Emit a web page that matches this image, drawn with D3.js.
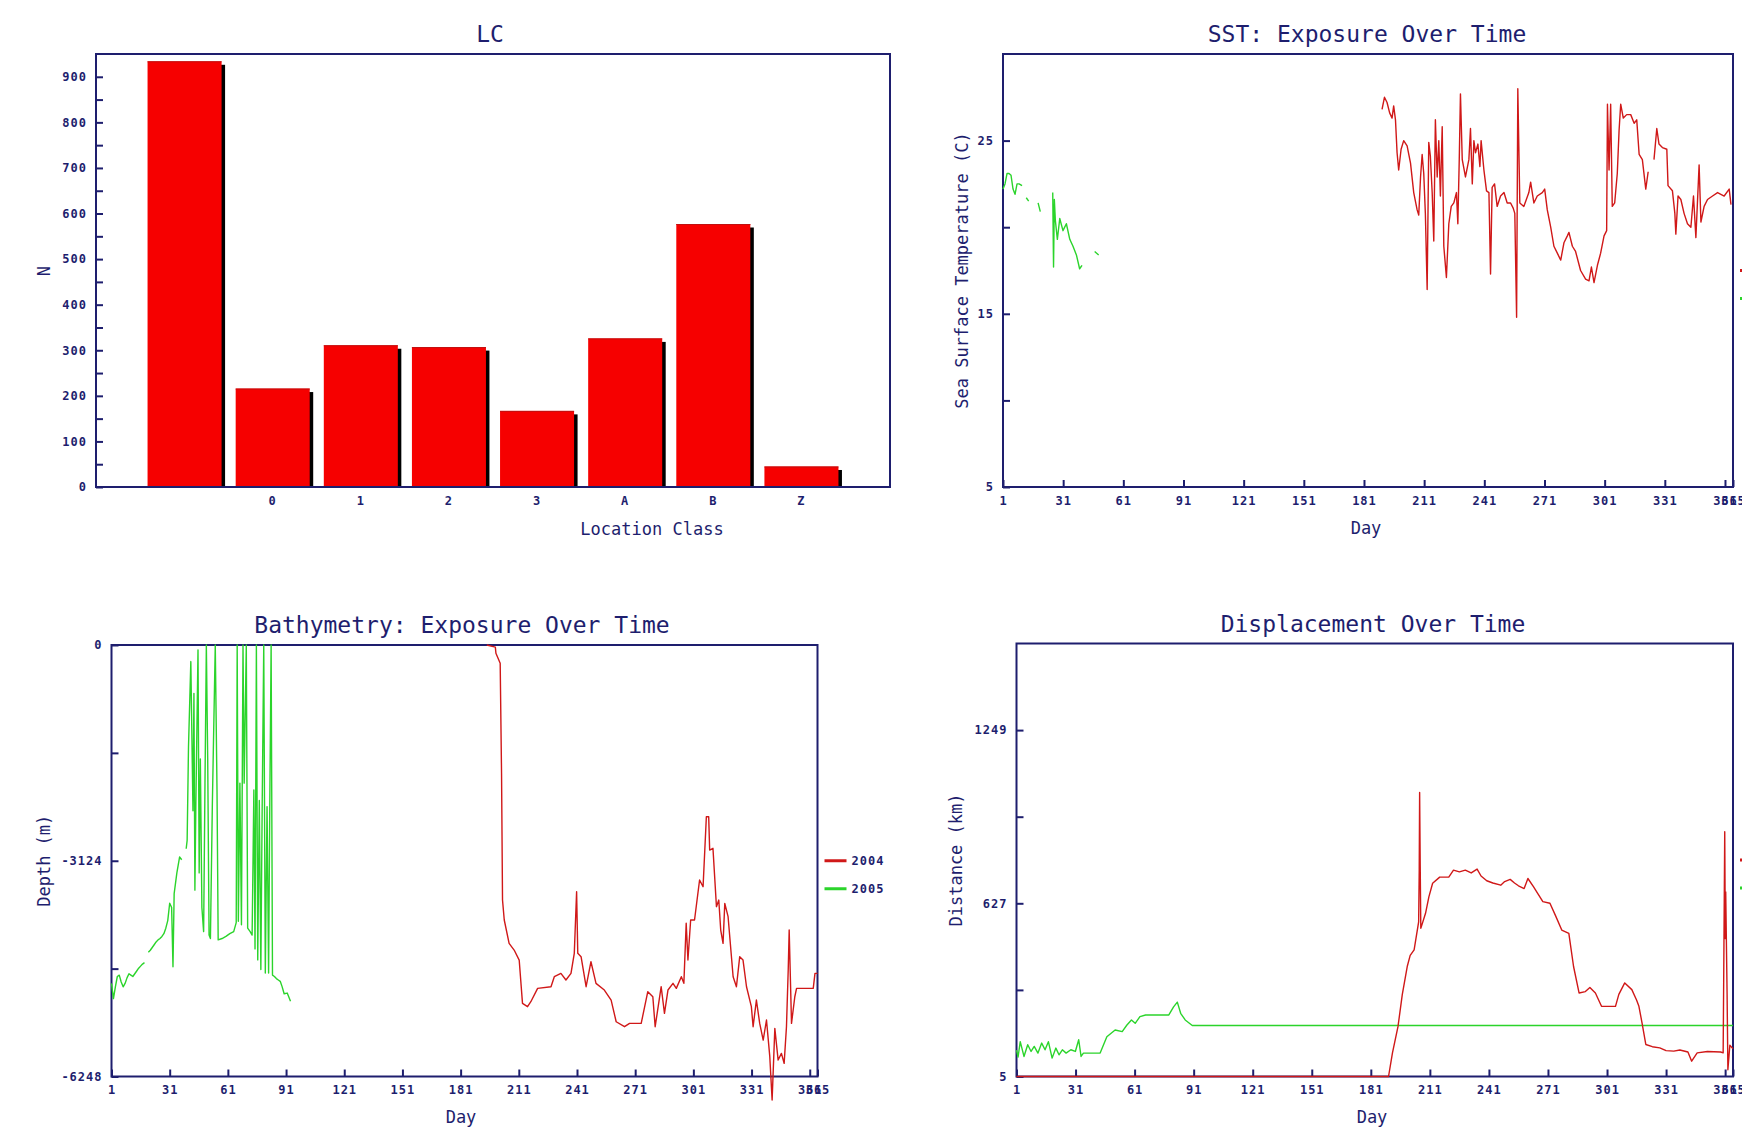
<!DOCTYPE html>
<html><head><meta charset="utf-8">
<script src="https://cdn.jsdelivr.net/npm/d3@7"></script>
<style>
html,body{margin:0;padding:0;background:#fff;overflow:hidden}
svg{display:block}
</style></head><body>
<svg id="c" width="1742" height="1131"></svg>
<script>
// ---------------- DATA ----------------
const lcCategories = ["", "0", "1", "2", "3", "A", "B", "Z"];
const lcCounts = [934, 216, 311, 307, 167, 326, 577, 45];
const lcTicks = [0,50,100,150,200,250,300,350,400,450,500,550,600,650,700,750,800,850,900];
const lcLabeled = [0,100,200,300,400,500,600,700,800,900];

const dayTicks = [1,31,61,91,121,151,181,211,241,271,301,331,361,365];
const seriesNames = ["2004", "2005"];

const sstTicks = [5,10,15,20,25];
const sstLabeled = [5,15,25];
const sst2005 = [[1,22.2],[2,22.5],[3,23.1],[4,23.1],[5,23.0],[6,22.2],[7,21.9],[8,22.5],[9,22.5],[10.5,22.4],[11,null],
  [12.6,21.7],[13.8,21.5],[14.5,null],[18.5,21.4],[19.6,20.9],[20.5,null],[25.8,22.0],[26.2,17.7],[26.6,21.6],[27.1,20.4],
  [28.1,19.3],[29.3,20.5],[30.9,19.8],[32.6,20.2],[34.3,19.3],[35.9,18.9],[37.6,18.4],[39.2,17.6],[40.4,17.8],[41,null],
  [46.7,18.6],[48.7,18.4]];
const sst2004 = [[190,26.8],[191.2,27.5],[192.5,27.2],[193.8,26.6],[195,26.3],[195.8,27.0],[196.7,26.2],[197.5,24.3],[198.3,23.3],
  [199.5,24.5],[200.8,25.0],[202.5,24.7],[204.2,23.7],[205.8,22.0],[207.5,21.0],[208.3,20.7],[209.2,22.9],[210,24.2],[210.8,23.1],
  [211.6,20.8],[212.5,16.4],[213.3,24.9],[214.1,24.1],[215,22.0],[215.8,19.2],[216.6,26.2],[217.5,22.9],[218.3,25.0],[219.1,21.8],
  [220,25.8],[220.8,18.9],[222.1,17.1],[223.3,20.2],[224.5,21.2],[225.8,21.4],[227.1,22.0],[227.8,20.2],[228.5,23.9],[229.1,27.7],
  [230,23.9],[231.6,22.9],[233.3,23.9],[234.1,25.7],[235,22.5],[235.8,25.0],[236.6,24.3],[237.8,24.8],[238.8,23.5],[239.4,25.0],
  [240.8,23.3],[242.1,22.1],[243.3,22.0],[244.1,17.3],[244.9,22.3],[246.1,22.5],[247.4,21.2],[249.1,21.8],[250.8,22.0],[252.4,21.4],
  [254.1,21.4],[255.4,21.1],[256.2,20.8],[257.1,14.8],[257.7,28.0],[258.7,21.4],[260.7,21.2],[263.2,22.0],[264.1,22.6],[265.7,21.4],
  [267.4,21.8],[269.9,22.0],[271.1,22.2],[272.4,21.0],[274.1,20.0],[275.7,18.9],[277.4,18.5],[279.1,18.1],[280.7,19.1],[282.4,19.5],
  [283.2,19.7],[284.9,18.9],[286.5,18.6],[289,17.5],[291.5,17.0],[293.2,16.9],[294.4,17.7],[295.7,16.8],[297.4,17.8],[299,18.5],
  [300.7,19.5],[302,19.8],[302.4,27.1],[303.2,23.3],[304,27.1],[304.8,21.2],[306,21.4],[307.3,23.1],[308.2,25.6],[309,27.1],
  [310.3,26.3],[312,26.5],[314,26.5],[315.7,26.0],[317,26.2],[318.2,24.2],[319.8,23.9],[321.5,22.2],[322.7,23.2],[323.5,null],
  [325.6,23.9],[327,25.7],[328.1,24.8],[329.8,24.6],[332,24.5],[332.6,22.4],[334.8,22.1],[336,20.8],[336.5,19.6],[337.6,21.8],
  [339,21.6],[340.6,20.8],[342.3,20.2],[344,20.0],[345.3,21.8],[346.5,19.4],[348.1,23.6],[349,20.3],[350.6,21.2],[352.3,21.6],
  [354.8,21.8],[357.3,22.0],[360.6,21.8],[363.1,22.2],[364,21.3]];

const bathyTicks = [-6248,-4686,-3124,-1562,0];
const bathyLabeled = [-6248,-3124,0];
const bathy2005 = [[1,-4900],[2,-5120],[3,-4950],[4,-4800],[5,-4780],[6,-4880],[7,-4950],[8,-4900],[9,-4820],[10,-4760],
  [11,-4780],[12,-4800],[13,-4760],[14,-4720],[15,-4680],[16,-4650],[17,-4620],[18,-4600],[19,null],[20,-4450],[21,-4420],
  [22,-4380],[23,-4340],[24,-4300],[25,-4270],[26,-4250],[27,-4220],[28,-4180],[29,-4100],[30,-3990],[31,-3740],[32,-3800],
  [32.7,-4660],[33.3,-3600],[34.7,-3300],[36.1,-3070],[37.2,-3110],[38,null],[39.5,-2950],[40,-2830],[40.7,-1470],[41.9,-240],
  [43,-2400],[43.5,-700],[44,-3550],[44.5,-2290],[45.6,-70],[46.2,-3300],[46.8,-1650],[47.6,-3800],[48.5,-4150],[49.2,-2000],
  [49.9,0],[50.6,-1640],[51.3,-4200],[52,-4250],[53,-2300],[54.5,0],[55.4,-2100],[56,-4270],[58,-4250],[60,-4220],[62,-4180],
  [64,-4150],[65.3,-4020],[65.8,0],[66.4,-4000],[67.2,-2000],[68,-4050],[68.8,0],[69.4,-2000],[70.5,0],[71.2,-4100],[72.5,-4150],
  [73.5,-4200],[74.4,-2100],[75,-4400],[75.7,0],[76.4,-4560],[77.2,-2250],[78,-4700],[78.7,-2300],[79.5,0],[80.3,-4750],
  [81.2,-2340],[82,-4750],[82.6,-2340],[83.3,0],[84,-4780],[85,-4800],[86,-4830],[87,-4850],[88,-4870],[89,-4950],[90,-5050],
  [91.6,-5040],[93.3,-5160]];
const bathy2004 = [[194.5,0],[198.9,-30],[199.2,-120],[201.4,-265],[202.1,-1858],[202.6,-3693],[203.5,-3982],[206,-4320],
  [208.6,-4417],[211.2,-4562],[212.9,-5189],[215.5,-5237],[217.2,-5165],[220.7,-4972],[227.6,-4948],[229.3,-4803],[232.7,-4755],
  [235.3,-4851],[237.9,-4755],[239.6,-4465],[240.8,-3572],[241.4,-4465],[243.1,-4513],[245.7,-4948],[248.2,-4586],[250.8,-4899],
  [255.1,-4996],[258.6,-5141],[261.2,-5455],[265.5,-5527],[268.1,-5479],[274.1,-5479],[277.5,-5020],[280.1,-5093],[281.3,-5527],
  [284.4,-4948],[286.1,-5334],[287.9,-4996],[290.5,-4899],[292.2,-4972],[294.8,-4803],[296.1,-4899],[297.3,-4030],[298.2,-4562],
  [299.6,-3982],[301.6,-3982],[304.2,-3403],[306,-3500],[307.7,-2486],[308.9,-2486],[309.4,-2969],[311.1,-2944],[312.9,-3789],
  [314.1,-3693],[315.1,-4127],[316.3,-4320],[317.2,-3741],[318.9,-3934],[321.5,-4803],[323.2,-4948],[324.9,-4513],[326.6,-4562],
  [328.4,-4948],[330.9,-5237],[331.8,-5527],[333.5,-5141],[335.2,-5479],[337,-5720],[338.7,-5430],[340.4,-5961],[341.6,-6589],
  [343,-5551],[344.7,-6010],[346.4,-5913],[347.8,-6058],[349,-5527],[349.9,-4706],[350.4,-4127],[351.6,-5479],[353.3,-5093],
  [354.2,-4972],[362.8,-4972],[363.7,-4755],[365,-4755]];

const dispTicks = [5,316,627,938,1249];
const dispLabeled = [5,627,1249];
const disp2005 = [[1,100],[1.8,75],[2.9,130],[4.8,77],[6.7,119],[8.4,95],[10,113],[11.9,89],[13.8,125],[15.5,101],[17.2,130],
  [19.1,71],[21,107],[22.6,83],[24.3,101],[26.2,89],[28.6,101],[30.9,95],[32.6,137],[33.8,77],[35,89],[43.5,89],[46.9,148],
  [51.1,172],[54.7,166],[57.1,190],[59.4,208],[61.3,196],[63.7,220],[66.6,226],[78.4,226],[80.8,255],[82.7,272],[84.4,232],
  [86.7,208],[90.3,188],[365,188]];
const disp2004 = [[1,5],[190,5],[192,90],[194.8,184],[197,300],[199.5,400],[201,440],[203,460],[205.3,560],[205.6,750],
  [205.8,1025],[206.1,760],[206.4,537],[208.8,591],[210.5,650],[212.4,699],[216,721],[220.6,721],[223,746],[226,740],[229,746],
  [232,736],[235,750],[237,725],[239.9,708],[243,700],[247,692],[249,705],[251.8,713],[254,700],[256,690],[258.9,680],[260.8,716],
  [263.7,686],[266,660],[268.4,633],[272,627],[275,580],[278,531],[281.6,519],[284,400],[286.8,305],[290,310],[292.3,325],
  [295.1,305],[298.2,257],[305.3,257],[307,300],[310,341],[313.6,317],[316,280],[317.2,257],[318.8,197],[320.7,120],[324,112],
  [327.8,108],[331,98],[334.9,96],[338,100],[342.1,93],[344,60],[346.8,90],[352,95],[358.7,93],[360,90],[360.4,477],[360.8,884],
  [361.1,500],[361.3,668],[362,300],[362.4,29],[363.4,117],[365,105]];

// ---------------- STYLE ----------------
const NAVY = "#1e1e6e", BAR = "#f60000", RED = "#d01818", GREEN = "#2bd42b";
const FONT = "DejaVu Sans Mono, monospace";
const svg = d3.select("#c");
svg.append("rect").attr("width", 1742).attr("height", 1131).attr("fill", "#fff");

function styleAxis(g) {
  g.attr("font-family", FONT).attr("font-size", 12).attr("font-weight", "bold").attr("color", NAVY);
  g.select(".domain").remove();
  g.selectAll(".tick line").attr("stroke-width", 2);
  g.selectAll(".tick text").attr("letter-spacing", 1).attr("fill", NAVY);
}
function frame(x0, y0, x1, y1) {
  svg.append("rect").attr("x", x0).attr("y", y0).attr("width", x1 - x0).attr("height", y1 - y0)
    .attr("fill", "none").attr("stroke", NAVY).attr("stroke-width", 2);
}
function label(txt, x, y, size, rot) {
  const t = svg.append("text").attr("x", x).attr("y", y).attr("dy", "0.35em")
    .attr("text-anchor", "middle").attr("font-family", FONT).attr("font-size", size).attr("fill", NAVY).text(txt);
  if (rot) t.attr("transform", `rotate(-90,${x},${y})`);
}
function legend(x, yMid) {
  [RED, GREEN].forEach((c, i) => {
    const y = yMid + i * 28;
    svg.append("line").attr("x1", x).attr("x2", x + 22).attr("y1", y).attr("y2", y).attr("stroke", c).attr("stroke-width", 3);
    svg.append("text").attr("x", x + 27).attr("y", y).attr("dy", "0.35em").attr("font-family", FONT)
      .attr("font-size", 12).attr("font-weight", "bold").attr("letter-spacing", 1).attr("fill", NAVY).text(seriesNames[i]);
  });
}

// ---------------- LC BAR CHART ----------------
(function () {
  const L = 96, R = 890, T = 54, B = 487;
  const x = d3.scaleBand().domain(lcCategories).range([L, R]).paddingInner(0.16).paddingOuter(0.585).align(0.5);
  const y = d3.scaleLinear().domain([0, 950]).range([B, T]);
  const g = svg.append("g");
  lcCategories.forEach((c, i) => {
    const v = lcCounts[i];
    g.append("rect").attr("x", x(c) + 3.5).attr("y", y(v) + 3.5).attr("width", x.bandwidth())
      .attr("height", y(0) - y(v) - 3.5).attr("fill", "#000");
    g.append("rect").attr("x", x(c)).attr("y", y(v)).attr("width", x.bandwidth())
      .attr("height", y(0) - y(v)).attr("fill", BAR);
    g.append("line").attr("x1", x(c)).attr("x2", x(c) + x.bandwidth()).attr("y1", y(v) + 0.5).attr("y2", y(v) + 0.5)
      .attr("stroke", "#c01010").attr("stroke-width", 1);
  });
  svg.append("g").attr("transform", `translate(${L},0)`)
    .call(d3.axisLeft(y).tickValues(lcTicks).tickSize(-7).tickPadding(9)
      .tickFormat(d => lcLabeled.includes(d) ? d : "")).call(styleAxis);
  svg.append("g").attr("transform", `translate(0,${B})`)
    .call(d3.axisBottom(x).tickSize(0).tickPadding(9)).call(styleAxis);
  frame(L, T, R, B);
  label("LC", 490, 34, 23);
  label("Location Class", 652, 529, 17);
  label("N", 44, 271, 17, true);
})();

// ---------------- LINE CHARTS ----------------
function lineChart(o) {
  const x = d3.scaleLinear().domain([1, 365]).range([o.L, o.R]);
  const y = d3.scaleLinear().domain(o.yDomain).range([o.B, o.T]);
  const line = d3.line().defined(d => d[1] != null).x(d => x(d[0])).y(d => y(d[1]));
  svg.append("g").attr("transform", `translate(${o.L},0)`)
    .call(d3.axisLeft(y).tickValues(o.ticks).tickSize(-7).tickPadding(9)
      .tickFormat(d => o.labeled.includes(d) ? d : "")).call(styleAxis);
  svg.append("g").attr("transform", `translate(0,${o.B})`)
    .call(d3.axisBottom(x).tickValues(dayTicks).tickSize(-7).tickPadding(9).tickFormat(d3.format("d"))).call(styleAxis);
  frame(o.L, o.T, o.R, o.B);
  o.series.forEach(s => {
    svg.append("path").datum(s.data).attr("d", line).attr("fill", "none")
      .attr("stroke", s.color).attr("stroke-width", 1.4).attr("stroke-linejoin", "round");
  });
  label(o.title, o.titleX, o.T - 20, 23);
  label("Day", o.dayX, o.B + 41, 17);
  label(o.yTitle, o.yTitleX, (o.T + o.B) / 2, 17, true);
  legend(o.R + 7, (o.T + o.B) / 2);
}

lineChart({L: 1003, R: 1733, T: 54, B: 487, yDomain: [5, 30], ticks: sstTicks, labeled: sstLabeled,
  series: [{data: sst2005, color: GREEN}, {data: sst2004, color: RED}],
  title: "SST: Exposure Over Time", titleX: 1367, dayX: 1366, yTitle: "Sea Surface Temperature (C)", yTitleX: 962});

lineChart({L: 111.5, R: 817.5, T: 645, B: 1076.5, yDomain: [-6248, 0], ticks: bathyTicks, labeled: bathyLabeled,
  series: [{data: bathy2005, color: GREEN}, {data: bathy2004, color: RED}],
  title: "Bathymetry: Exposure Over Time", titleX: 462, dayX: 461, yTitle: "Depth (m)", yTitleX: 44});

lineChart({L: 1016.5, R: 1733, T: 643.5, B: 1076.5, yDomain: [5, 1560], ticks: dispTicks, labeled: dispLabeled,
  series: [{data: disp2005, color: GREEN}, {data: disp2004, color: RED}],
  title: "Displacement Over Time", titleX: 1373, dayX: 1372, yTitle: "Distance (km)", yTitleX: 956});
</script>
</body></html>
